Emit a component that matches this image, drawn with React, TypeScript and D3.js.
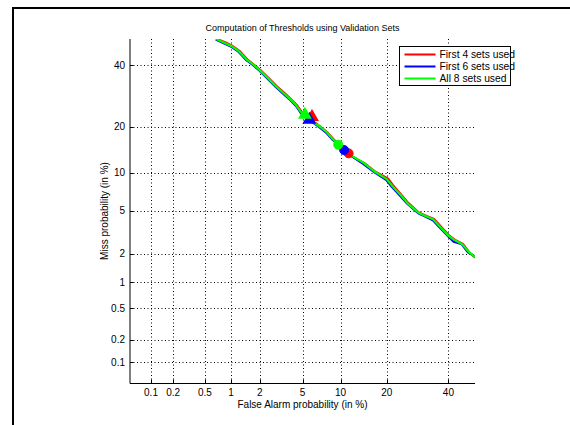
import React from "react";
import * as d3 from "d3";

const tickValues = [0.1, 0.2, 0.5, 1, 2, 5, 10, 20, 40];
const tickLabels = ["0.1", "0.2", "0.5", "1", "2", "5", "10", "20", "40"];
const axisMin = 0.05;
const axisMax = 50;

const seriesNames = ["First 4 sets used", "First 6 sets used", "All 8 sets used"];
const seriesColors = ["#ff0000", "#0000ff", "#00ff00"];

// [false alarm %, miss %]
const red4: [number, number][] = [
  [0.69, 50], [0.87, 48.7], [1.05, 47.2], [1.23, 45.5], [1.5, 42.2], [1.73, 40.4], [2.01, 38.5],
  [2.42, 35.6], [2.92, 32.6], [3.44, 30.3], [3.97, 28.2], [4.45, 26.4], [4.95, 24.1], [5.5, 23.2],
  [6.0, 22.8], [6.15, 21.5], [7.05, 20.0], [8.0, 18.5], [8.9, 16.8], [10.4, 14.8], [11.4, 13.7],
  [12.3, 12.9], [14.5, 11.8], [17.1, 10.2], [20.3, 9.1], [21.7, 8.1], [23.9, 6.9], [26.2, 5.85],
  [29.6, 4.85], [32.2, 4.52], [34.8, 4.25], [37.3, 3.62], [40.2, 3.02], [42.3, 2.75], [45.4, 2.5],
  [47.7, 2.08], [50, 1.83],
];
const blue6: [number, number][] = [
  [0.67, 49.8], [0.84, 48.3], [1.02, 46.9], [1.19, 45.3], [1.47, 41.9], [1.69, 40.3], [1.98, 38.2],
  [2.38, 35.3], [2.87, 32.3], [3.38, 30.0], [3.92, 27.9], [4.38, 26.1], [4.88, 23.8], [5.5, 22.6],
  [5.7, 22.0], [6.05, 21.3], [6.95, 19.8], [7.9, 18.3], [8.75, 16.7], [9.9, 15.2], [10.6, 14.4],
  [11.6, 13.4], [14.3, 11.6], [16.9, 10.1], [19.9, 8.85], [21.3, 7.9], [23.6, 6.75], [25.9, 5.75],
  [29.4, 4.78], [31.9, 4.45], [34.4, 4.15], [36.9, 3.55], [39.8, 2.97], [41.9, 2.62], [45.0, 2.48],
  [47.3, 2.07], [50, 1.87],
];
const green8: [number, number][] = [
  [0.68, 50], [0.85, 48.5], [1.03, 47.1], [1.2, 45.5], [1.48, 42.1], [1.7, 40.5], [1.99, 38.4],
  [2.4, 35.5], [2.89, 32.5], [3.4, 30.2], [3.94, 28.1], [4.4, 26.3], [4.91, 24.0], [5.24, 23.4],
  [6.07, 21.5], [7.0, 20.0], [7.94, 18.5], [8.8, 16.8], [9.6, 15.6], [11.5, 13.5], [14.4, 11.8],
  [17, 10.2], [20, 9.0], [21.5, 8.0], [23.8, 6.85], [26, 5.8], [29.5, 4.83], [32, 4.5],
  [34.5, 4.23], [37, 3.6], [40, 3.0], [42, 2.75], [45.2, 2.48], [47.5, 2.1], [50, 1.85],
];
const seriesData = [red4, blue6, green8];

// threshold markers [FA %, Miss %]
const triangleMarks: [number, number][] = [[6.0, 22.8], [5.7, 22.0], [5.24, 23.4]];
const circleMarks: [number, number][] = [[11.4, 13.7], [10.6, 14.4], [9.6, 15.6]];

// inverse normal CDF (Acklam)
function probit(p: number): number {
  const a = [-3.969683028665376e1, 2.209460984245205e2, -2.759285104469687e2, 1.38357751867269e2, -3.066479806614716e1, 2.506628277459239];
  const b = [-5.447609879822406e1, 1.615858368580409e2, -1.556989798598866e2, 6.680131188771972e1, -1.328068155288572e1];
  const c = [-7.784894002430293e-3, -3.223964580411365e-1, -2.400758277161838, -2.549732539343734, 4.374664141464968, 2.938163982698783];
  const d = [7.784695709041462e-3, 3.224671290700398e-1, 2.445134137142996, 3.754408661907416];
  const pl = 0.02425;
  if (p < pl) {
    const q = Math.sqrt(-2 * Math.log(p));
    return (((((c[0] * q + c[1]) * q + c[2]) * q + c[3]) * q + c[4]) * q + c[5]) / ((((d[0] * q + d[1]) * q + d[2]) * q + d[3]) * q + 1);
  }
  if (p <= 1 - pl) {
    const q = p - 0.5;
    const r = q * q;
    return ((((((a[0] * r + a[1]) * r + a[2]) * r + a[3]) * r + a[4]) * r + a[5]) * q) / (((((b[0] * r + b[1]) * r + b[2]) * r + b[3]) * r + b[4]) * r + 1);
  }
  const q = Math.sqrt(-2 * Math.log(1 - p));
  return -(((((c[0] * q + c[1]) * q + c[2]) * q + c[3]) * q + c[4]) * q + c[5]) / ((((d[0] * q + d[1]) * q + d[2]) * q + d[3]) * q + 1);
}

const W = 570;
const H = 425;
const left = 130;
const right = 475;
const top = 39;
const bottom = 383;

export default function App() {
  const xLin = d3.scaleLinear().domain([probit(axisMin / 100), probit(axisMax / 100)]).range([left, right]);
  const yLin = d3.scaleLinear().domain([probit(axisMin / 100), probit(axisMax / 100)]).range([bottom, top]);
  const x = (v: number) => xLin(probit(v / 100));
  const y = (v: number) => yLin(probit(v / 100));
  const line = d3.line<[number, number]>().x((d) => x(d[0])).y((d) => y(d[1]));
  const font = "Liberation Sans, Arial, Helvetica, sans-serif";
  const tri = d3.symbol().type(d3.symbolTriangle).size(55);

  return (
    <svg width={W} height={H} style={{ position: "absolute", left: 0, top: 0, background: "#fff" }} fontFamily={font}>
      <rect x={0} y={0} width={W} height={H} fill="#fff" />
      {/* outer frame */}
      <line x1={12} y1={8} x2={W} y2={8} stroke="#000" strokeWidth={2} />
      <line x1={13} y1={7} x2={13} y2={H} stroke="#000" strokeWidth={2} />

      <defs>
        <clipPath id="plotclip">
          <rect x={left} y={top} width={right - left} height={bottom - top} />
        </clipPath>
      </defs>

      {/* grid */}
      {tickValues.map((t) => (
        <g key={"g" + t}>
          <line x1={Math.round(x(t)) + 0.5} x2={Math.round(x(t)) + 0.5} y1={top} y2={bottom} stroke="#000" strokeWidth={1} strokeDasharray="1,2.5" />
          <line y1={Math.round(y(t)) + 0.5} y2={Math.round(y(t)) + 0.5} x1={left} x2={right} stroke="#000" strokeWidth={1} strokeDasharray="1,2.5" />
        </g>
      ))}

      {/* axes */}
      <line x1={left} x2={left} y1={top} y2={bottom + 0.5} stroke="#000" strokeWidth={1} />
      <line x1={left} x2={right} y1={bottom + 0.5} y2={bottom + 0.5} stroke="#000" strokeWidth={1} />
      {tickValues.map((t, i) => (
        <g key={"t" + t}>
          <line x1={Math.round(x(t)) + 0.5} x2={Math.round(x(t)) + 0.5} y1={bottom} y2={bottom - 3.5} stroke="#000" />
          <line y1={Math.round(y(t)) + 0.5} y2={Math.round(y(t)) + 0.5} x1={left} x2={left + 3.5} stroke="#000" />
          <text x={x(t)} y={bottom + 13} fontSize={10} textAnchor="middle" fill="#000">{tickLabels[i]}</text>
          <text x={left - 5} y={y(t) + 3.5} fontSize={10} textAnchor="end" fill="#000">{tickLabels[i]}</text>
        </g>
      ))}

      {/* curves */}
      <g clipPath="url(#plotclip)">
        {seriesData.map((s, i) => (
          <path key={"s" + i} d={line(s) || ""} fill="none" stroke={seriesColors[i]} strokeWidth={2.2} strokeLinejoin="round" />
        ))}
        {triangleMarks.map((m, i) => (
          <path key={"tr" + i} d={tri() || ""} transform={`translate(${x(m[0])},${y(m[1])})`} fill={seriesColors[i]} stroke={seriesColors[i]} strokeWidth={1.5} />
        ))}
        {circleMarks.map((m, i) => (
          <circle key={"c" + i} cx={x(m[0])} cy={y(m[1])} r={4.5} fill={seriesColors[i]} stroke={seriesColors[i]} strokeWidth={1} />
        ))}
      </g>

      {/* title and labels */}
      <text x={(left + right) / 2} y={31} fontSize={9} textAnchor="middle" fill="#000">Computation of Thresholds using Validation Sets</text>
      <text x={(left + right) / 2} y={408} fontSize={10} textAnchor="middle" fill="#000">False Alarm probability (in %)</text>
      <text transform={`translate(${108},${(top + bottom) / 2}) rotate(-90)`} fontSize={10} textAnchor="middle" fill="#000">Miss probability (in %)</text>

      {/* legend */}
      <rect x={399.5} y={46.5} width={111} height={39} fill="#fff" stroke="#000" strokeWidth={1} />
      {seriesNames.map((n, i) => (
        <g key={"l" + n}>
          <line x1={404.5} x2={435.5} y1={54.5 + i * 12} y2={54.5 + i * 12} stroke={seriesColors[i]} strokeWidth={2} />
          <text x={439.5} y={58 + i * 12} fontSize={10.3} fill="#000">{n}</text>
        </g>
      ))}
    </svg>
  );
}
